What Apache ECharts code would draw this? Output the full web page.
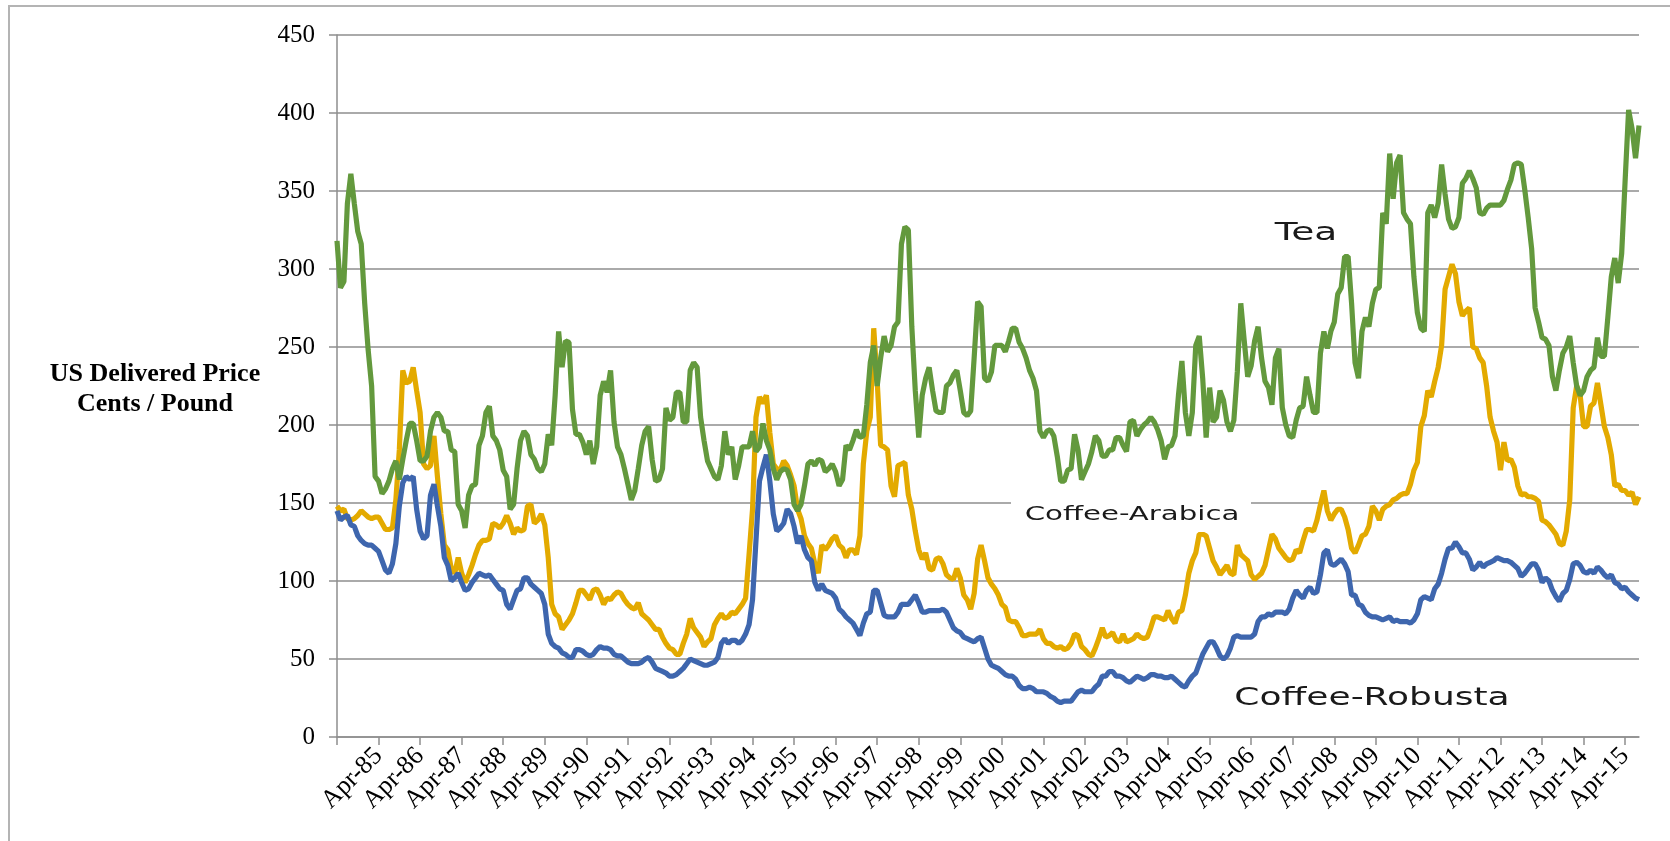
<!DOCTYPE html>
<html lang="en">
<head>
<meta charset="utf-8" />
<title>US Delivered Price</title>
<script src="https://cdn.jsdelivr.net/npm/echarts@6/dist/echarts.min.js"></script>
<style>
  html, body { margin: 0; padding: 0; background: #fff; }
  #chart { width: 1670px; height: 841px; }
</style>
</head>
<body>
<div id="chart"></div>
<script type="text/javascript">
// monthly, Apr-84 .. Aug-15, cents / pound
var startYear = 1984, startMonth = 3;
var monthNames = ['Jan','Feb','Mar','Apr','May','Jun','Jul','Aug','Sep','Oct','Nov','Dec'];

var tea = [
  318, 288, 292, 342, 361, 342, 324, 316, 278, 248,
  225, 167, 164, 156, 159, 164, 172, 177, 165, 178,
  190, 201, 201, 190, 177, 177, 180, 196, 205, 208,
  205, 196, 196, 184, 183, 149, 145, 134, 155, 161,
  162, 187, 193, 208, 212, 193, 190, 184, 171, 167,
  146, 149, 172, 190, 196, 193, 181, 178, 172, 170,
  175, 194, 187, 219, 260, 237, 254, 253, 210, 194,
  194, 189, 181, 190, 175, 186, 219, 228, 221, 235,
  202, 186, 181, 172, 162, 152, 158, 172, 187, 196,
  199, 178, 164, 165, 172, 211, 203, 205, 221, 221,
  202, 202, 235, 240, 237, 205, 190, 177, 172, 167,
  165, 174, 196, 181, 186, 165, 174, 186, 186, 186,
  196, 183, 186, 201, 190, 184, 172, 165, 170, 172,
  171, 165, 149, 145, 149, 161, 175, 177, 174, 178,
  177, 170, 172, 175, 170, 161, 165, 187, 184, 190,
  197, 192, 193, 213, 240, 251, 225, 243, 257, 247,
  251, 263, 266, 316, 327, 325, 263, 222, 192, 219,
  230, 237, 222, 209, 208, 208, 225, 227, 232, 235,
  222, 208, 206, 209, 243, 279, 276, 230, 228, 234,
  251, 251, 251, 247, 254, 262, 262, 253, 249, 243,
  235, 230, 222, 196, 192, 196, 197, 193, 180, 164,
  164, 171, 172, 194, 184, 165, 170, 175, 183, 193,
  190, 180, 180, 184, 184, 192, 192, 187, 183, 202,
  203, 193, 197, 200, 202, 205, 202, 197, 190, 178,
  186, 187, 193, 219, 241, 208, 193, 208, 251, 257,
  230, 192, 224, 202, 205, 222, 216, 202, 196, 203,
  234, 278, 254, 231, 238, 254, 263, 243, 228, 224,
  213, 243, 249, 211, 200, 193, 192, 203, 211, 212,
  231, 219, 208, 208, 246, 260, 249, 260, 266, 284,
  288, 308, 308, 278, 240, 230, 260, 269, 263, 278,
  287, 288, 336, 329, 374, 345, 368, 373, 336, 332,
  329, 295, 272, 262, 260, 336, 341, 333, 342, 367,
  348, 332, 326, 327, 333, 355, 358, 363, 358, 352,
  336, 335, 339, 341, 341, 341, 341, 344, 351, 357,
  367, 368, 367, 351, 333, 313, 275, 266, 256, 255,
  251, 231, 222, 235, 246, 250, 257, 240, 225, 219,
  222, 231, 235, 237, 256, 244, 244, 269, 295, 307,
  291, 310, 357, 402, 390, 371, 392
];

var arabica = [
  148, 145, 146, 140, 139, 140, 142, 145, 143, 141,
  140, 141, 141, 137, 133, 133, 134, 152, 184, 235,
  227, 228, 237, 222, 208, 175, 172, 174, 193, 167,
  143, 123, 120, 108, 105, 115, 105, 99, 104, 110,
  117, 123, 126, 126, 127, 137, 136, 134, 137, 142,
  137, 130, 134, 132, 133, 148, 149, 137, 139, 143,
  136, 115, 85, 79, 77, 69, 72, 75, 79, 86,
  94, 94, 91, 88, 94, 95, 91, 85, 89, 88,
  91, 93, 92, 88, 85, 83, 82, 86, 79, 77,
  75, 72, 69, 69, 64, 60, 57, 56, 53, 53,
  60, 66, 76, 70, 67, 64, 58, 61, 63, 72,
  76, 79, 76, 77, 80, 79, 82, 85, 89, 117,
  146, 205, 218, 214, 219, 195, 175, 172, 171, 177,
  174, 168, 161, 146, 140, 129, 124, 121, 111, 105,
  123, 120, 123, 127, 129, 123, 121, 115, 120, 120,
  117, 129, 175, 196, 205, 262, 228, 187, 186, 184,
  161, 154, 174, 175, 176, 155, 146, 132, 120, 114,
  118, 108, 107, 114, 115, 111, 104, 102, 101, 108,
  102, 91, 88, 82, 92, 114, 123, 113, 102, 98,
  95, 91, 85, 83, 75, 74, 74, 70, 65, 65,
  66, 66, 66, 69, 63, 60, 60, 58, 57, 58,
  56, 57, 60, 66, 65, 58, 56, 53, 52, 57,
  63, 70, 64, 65, 67, 62, 61, 66, 61, 62,
  63, 66, 64, 63, 64, 70, 77, 77, 76, 75,
  81, 76, 73, 80, 81, 91, 105, 113, 118, 130,
  130, 129, 121, 113, 109, 104, 107, 110, 105, 104,
  123, 117, 115, 113, 104, 101, 103, 105, 110, 120,
  130, 127, 121, 118, 115, 113, 114, 120, 118, 126,
  133, 133, 132, 139, 149, 158, 145, 139, 143, 146,
  146, 141, 133, 121, 118, 123, 129, 130, 135, 148,
  145, 139, 146, 148, 149, 152, 153, 155, 156, 156,
  162, 171, 176, 199, 206, 222, 218, 228, 237, 251,
  287, 295, 303, 297, 279, 270, 273, 275, 250, 249,
  243, 240, 225, 205, 196, 189, 171, 189, 177, 178,
  173, 161, 155, 156, 154, 154, 153, 151, 139, 138,
  136, 133, 130, 124, 123, 132, 152, 211, 225, 219,
  199, 199, 212, 214, 227, 213, 199, 192, 181, 161,
  162, 158, 158, 155, 157, 149, 154
];

var robusta = [
  145, 139, 141, 142, 136, 135, 129, 126, 124, 123,
  123, 121, 119, 113, 107, 105, 111, 124, 148, 163,
  167, 165, 167, 146, 132, 127, 129, 155, 162, 148,
  135, 115, 110, 100, 102, 105, 99, 94, 95, 99,
  102, 105, 104, 103, 104, 101, 98, 95, 94, 85,
  82, 88, 94, 95, 102, 102, 98, 96, 94, 92,
  85, 66, 60, 58, 57, 54, 53, 51, 51, 56,
  56, 55, 53, 52, 53, 56, 58, 57, 57, 56,
  53, 52, 52, 50, 48, 47, 47, 47, 48, 50,
  51, 48, 44, 43, 42, 41, 39, 39, 40, 42,
  44, 47, 50, 49, 48, 47, 46, 46, 47, 48,
  51, 60, 63, 60, 62, 62, 60, 62, 66, 72,
  88, 126, 164, 173, 181, 164, 143, 132, 134, 137,
  146, 143, 135, 124, 129, 120, 115, 113, 99, 94,
  98, 94, 93, 92, 89, 82, 80, 77, 75, 73,
  69, 65, 73, 79, 80, 94, 94, 86, 78, 77,
  77, 77, 80, 85, 85, 85, 88, 91, 86, 80,
  80, 81, 81, 81, 81, 82, 80, 75, 70, 68,
  67, 64, 63, 62, 61, 63, 64, 57, 50, 46,
  45, 44, 42, 40, 39, 39, 37, 33, 31, 31,
  32, 31, 29, 29, 29, 28, 26, 25, 23, 22,
  23, 23, 23, 26, 29, 30, 29, 29, 29, 32,
  34, 39, 39, 42, 42, 39, 39, 38, 36, 35,
  37, 39, 38, 37, 38, 40, 40, 39, 39, 38,
  38, 39, 37, 35, 33, 32, 36, 39, 41, 47,
  53, 57, 61, 61, 57, 52, 50, 52, 57, 64,
  65, 64, 64, 64, 64, 66, 74, 77, 77, 79,
  78, 80, 80, 80, 79, 82, 89, 94, 91, 89,
  94, 96, 92, 93, 104, 118, 120, 111, 110, 112,
  114, 111, 106, 91, 91, 85, 84, 80, 78, 77,
  77, 76, 75, 76, 77, 74, 75, 74, 74, 74,
  73, 75, 79, 88, 90, 89, 88, 95, 98, 105,
  114, 121, 121, 125, 122, 118, 118, 114, 107, 109,
  112, 109, 111, 112, 113, 115, 114, 113, 113, 112,
  110, 108, 103, 105, 108, 111, 111, 107, 99, 102,
  100, 94, 90, 87, 92, 94, 101, 111, 112, 110,
  106, 105, 107, 105, 109, 107, 104, 102, 104, 99,
  98, 95, 96, 93, 91, 89, 88
];

var months = [];
for (var i = 0; i < tea.length; i++) {
  var m = (startMonth + i) % 12;
  var y = startYear + Math.floor((startMonth + i) / 12);
  months.push(monthNames[m] + '-' + String(y).slice(2));
}

var serif = '"Liberation Serif", "Times New Roman", serif';
var gridColor = '#8e8e8e';
var lineW = 5.2;

var chart = echarts.init(document.getElementById('chart'));
chart.setOption({
  animation: false,
  grid: { left: 337, right: 31, top: 35, bottom: 104 },
  xAxis: {
    type: 'category',
    data: months,
    boundaryGap: false,
    axisLine: { show: true, lineStyle: { color: gridColor, width: 1.5 } },
    axisTick: {
      show: true, length: 8, inside: false,
      interval: function (idx) { return idx % 12 === 0; },
      lineStyle: { color: gridColor, width: 1.5 }
    },
    axisLabel: {
      rotate: 45,
      margin: 15,
      interval: function (idx) { return idx > 0 && idx % 12 === 0; },
      fontFamily: serif,
      fontSize: 26,
      color: '#000'
    },
    splitLine: { show: false }
  },
  yAxis: {
    type: 'value',
    min: 0, max: 450, interval: 50,
    axisLine: { show: true, lineStyle: { color: gridColor, width: 1.5 } },
    axisTick: { show: true, length: 8, lineStyle: { color: gridColor, width: 1.5 } },
    axisLabel: { margin: 22, fontFamily: serif, fontSize: 25, color: '#000' },
    splitLine: { show: true, lineStyle: { color: gridColor, width: 1.5 } }
  },
  series: [
    { name: 'Coffee-Arabica', type: 'line', data: arabica, showSymbol: false,
      lineStyle: { color: '#e3aa00', width: lineW }, itemStyle: { color: '#e3aa00' } },
    { name: 'Coffee-Robusta', type: 'line', data: robusta, showSymbol: false,
      lineStyle: { color: '#3e66ae', width: lineW }, itemStyle: { color: '#3e66ae' } },
    { name: 'Tea', type: 'line', data: tea, showSymbol: false,
      lineStyle: { color: '#63993d', width: lineW }, itemStyle: { color: '#63993d' } }
  ],
  graphic: [
    { type: 'rect', z: 0, silent: true,
      shape: { x: 9, y: 6, width: 1700, height: 900 },
      style: { fill: 'none', stroke: '#b4b4b4', lineWidth: 2 } },
    { type: 'text', x: 155, y: 374, z: 10,
      style: { text: 'US Delivered Price', x: 0, y: 0, textAlign: 'center', textVerticalAlign: 'middle',
               font: 'bold 26px ' + serif, fill: '#000' } },
    { type: 'text', x: 155, y: 404, z: 10,
      style: { text: 'Cents / Pound', x: 0, y: 0, textAlign: 'center', textVerticalAlign: 'middle',
               font: 'bold 26px ' + serif, fill: '#000' } },
    { type: 'rect', z: 5, silent: true,
      shape: { x: 1011, y: 497, width: 240, height: 35 },
      style: { fill: '#fff' } },
    { type: 'text', x: 1306, y: 233, scaleX: 1.5, z: 10,
      style: { text: 'Tea', x: 0, y: 0, textAlign: 'center', textVerticalAlign: 'middle',
               font: '25px "DejaVu Sans", sans-serif', fill: '#1a1a1a' } },
    { type: 'text', x: 1132, y: 515, scaleX: 1.46, z: 10,
      style: { text: 'Coffee-Arabica', x: 0, y: 0, textAlign: 'center', textVerticalAlign: 'middle',
               font: '20px "DejaVu Sans", sans-serif', fill: '#1a1a1a' } },
    { type: 'text', x: 1372, y: 699, scaleX: 1.5, z: 10,
      style: { text: 'Coffee-Robusta', x: 0, y: 0, textAlign: 'center', textVerticalAlign: 'middle',
               font: '24px "DejaVu Sans", sans-serif', fill: '#1a1a1a' } }
  ]
});
</script>
</body>
</html>
